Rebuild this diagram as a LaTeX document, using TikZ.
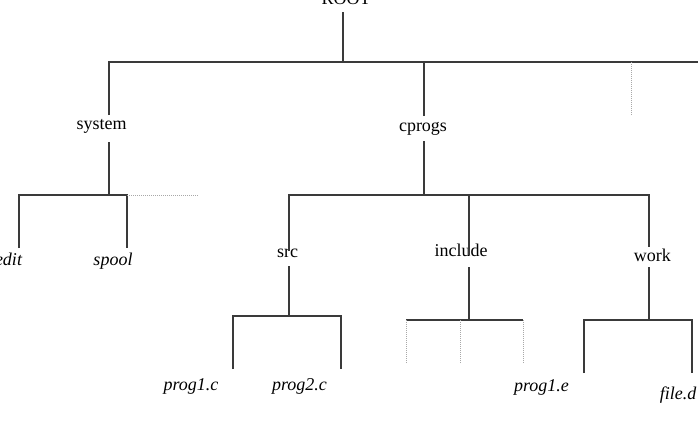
\documentclass[tikz,border=0pt]{standalone}
\usepackage{fontspec}
\setmainfont{Liberation Serif}
\usepackage{tikz}
\definecolor{treeStroke}{HTML}{3A3A3A}
\definecolor{hiddenStroke}{HTML}{A8A8A8}
\begin{document}
\begin{tikzpicture}[
  x=1pt,y=-1pt,font=\fontsize{18}{21}\selectfont,
  dirname/.style={anchor=base,inner sep=0pt},
  filename/.style={anchor=base,inner sep=0pt,font=\fontsize{18}{21}\selectfont\itshape},
  branch/.style={line width=1.1pt,draw=treeStroke},
  hidden/.style={line width=1pt,draw=hiddenStroke,dash pattern=on 1pt off 1pt}
]
\useasboundingbox (0,0) rectangle (698,421);
% Directory tree: dotted branches stand for entries that are not named.
\node[dirname] (root) at (346,4) {ROOT};
\node[dirname] (system) at (101.5,129) {system};
\node[dirname] (cprogs) at (423,131) {cprogs};
\node[filename] (edit) at (8.5,265) {edit};
\node[filename] (spool) at (113,265) {spool};
\node[dirname] (src) at (287.7,257) {src};
\node[dirname] (include) at (461,256.7) {include};
\node[dirname] (work) at (652.3,261.7) {work};
\node[filename] (prog1c) at (191,390) {prog1.c};
\node[filename] (prog2c) at (299.5,390) {prog2.c};
\node[filename] (prog1e) at (541.5,391) {prog1.e};
\node[filename] (filed) at (678,399) {file.d};
\coordinate (rootS) at (343,12);
\coordinate (rootJ) at (343,62);
\coordinate (topR) at (698,62);
\coordinate (systemA) at (109,115);
\coordinate (cprogsA) at (424,116);
\coordinate (extraA) at (631,115);
\draw[branch] (rootS) -- (rootJ);
\draw[branch] (systemA) |- (topR);
\draw[branch] (cprogsA) -- (cprogsA |- topR);
\draw[hidden] (extraA) -- (extraA |- topR);
\coordinate (systemB) at (109,142);
\coordinate (systemJ) at (109,195);
\coordinate (editA) at (19,248);
\coordinate (spoolA) at (127,248);
\coordinate (systemR) at (198,195);
\draw[branch] (systemB) -- (systemJ);
\draw[branch] (editA) |- (spoolA |- systemJ) -- (spoolA);
\draw[hidden] (spoolA |- systemJ) -- (systemR);
\coordinate (cprogsB) at (424,141);
\coordinate (cprogsJ) at (424,195);
\coordinate (srcA) at (289,251);
\coordinate (includeA) at (469,255);
\coordinate (workA) at (649,247);
\draw[branch] (cprogsB) -- (cprogsJ);
\draw[branch] (srcA) |- (workA |- cprogsJ) -- (workA);
\draw[branch] (includeA) -- (includeA |- cprogsJ);
\coordinate (srcB) at (289,266);
\coordinate (srcJ) at (289,316);
\coordinate (prog1cA) at (233,369);
\coordinate (prog2cA) at (341,369);
\draw[branch] (srcB) -- (srcJ);
\draw[branch] (prog1cA) |- (prog2cA |- srcJ) -- (prog2cA);
\coordinate (includeB) at (469,267);
\coordinate (includeJ) at (469,320);
\coordinate (incL) at (406,363);
\coordinate (incM) at (460,363);
\coordinate (incR) at (523,363);
\draw[branch] (includeB) -- (includeJ);
\draw[branch] (incL |- includeJ) -- (incR |- includeJ);
\foreach \leaf in {incL,incM,incR}
  \draw[hidden] (\leaf) -- (\leaf |- includeJ);
\coordinate (workB) at (649,267);
\coordinate (workJ) at (649,320);
\coordinate (workL) at (584,373);
\coordinate (filedA) at (692,373);
\draw[branch] (workB) -- (workJ);
\draw[branch] (workL) |- (filedA |- workJ) -- (filedA);
\end{tikzpicture}
\end{document}
